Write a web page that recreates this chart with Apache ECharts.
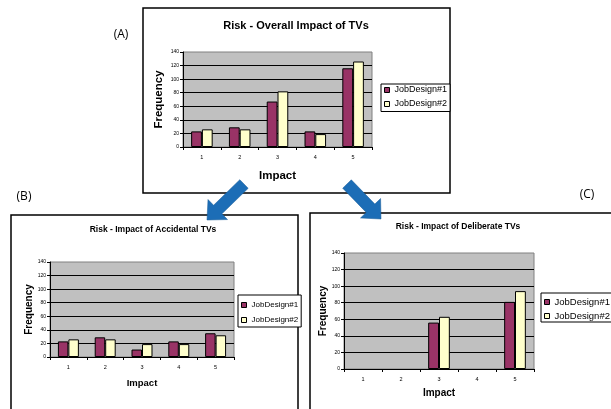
<!DOCTYPE html>
<html>
<head>
<meta charset="utf-8">
<script src="https://cdn.jsdelivr.net/npm/echarts@6/dist/echarts.min.js"></script>
<style>
  html, body { margin: 0; padding: 0; background: #fff; }
  #main { width: 611px; height: 409px; }
</style>
</head>
<body>
<div id="main"></div>
<script>
// data
const impactLevels = ['1', '2', '3', '4', '5'];
const seriesNames = ['JobDesign#1', 'JobDesign#2'];

const overallJD1 = [23, 29, 67, 23, 116];
const overallJD2 = [26, 26, 82, 19, 126];

const accidentalJD1 = [23, 29, 11, 23, 35];
const accidentalJD2 = [26, 26, 19, 19, 32];

const deliberateJD1 = [null, null, 56, null, 81];
const deliberateJD2 = [null, null, 63, null, 94];

const freqMax = 140;
const freqStep = 20;

const chart = echarts.init(document.getElementById('main'));

const ARIAL = 'Arial, "Liberation Sans", sans-serif';
const plum = '#993366';
const cream = '#FFFFCC';

// grid boxes (plot areas)
const grids = [
    { left: 183, top: 52, width: 189, height: 95 },   // A
    { left: 50, top: 262, width: 184, height: 95 },   // B
    { left: 344, top: 253, width: 190, height: 116 }  // C
];

function gridOpt(g) {
    return {
        left: g.left, top: g.top, width: g.width, height: g.height,
        show: true,
        backgroundColor: '#C0C0C0',
        borderColor: '#808080',
        borderWidth: 1
    };
}

function xAxisOpt(idx, gap, nameSize) {
    return {
        type: 'category',
        gridIndex: idx,
        data: impactLevels,
        name: 'Impact',
        nameLocation: 'middle',
        nameGap: gap,
        nameTextStyle: { fontFamily: ARIAL, fontWeight: 'bold', fontSize: nameSize, color: '#000' },
        axisLine: { lineStyle: { color: '#000', width: 1 } },
        axisTick: { show: true, length: 3, lineStyle: { color: '#000' } },
        axisLabel: { fontSize: 5.5, fontFamily: ARIAL, color: '#000', margin: 7 },
        splitLine: { show: false }
    };
}

function yAxisOpt(idx, gap, nameSize) {
    return {
        type: 'value',
        gridIndex: idx,
        min: 0,
        max: freqMax,
        interval: freqStep,
        name: 'Frequency',
        nameLocation: 'middle',
        nameGap: gap,
        nameTextStyle: { fontFamily: ARIAL, fontWeight: 'bold', fontSize: nameSize, color: '#000' },
        axisLine: { show: true, lineStyle: { color: '#000', width: 1 } },
        axisTick: { show: true, length: 3, lineStyle: { color: '#000' } },
        axisLabel: { fontSize: 5, fontFamily: ARIAL, color: '#000', margin: 4 },
        splitLine: { show: true, showMaxLine: false, showMinLine: false, lineStyle: { color: '#000', width: 1 } }
    };
}

function barSeries(name, color, idx, values) {
    return {
        name: name,
        type: 'bar',
        xAxisIndex: idx,
        yAxisIndex: idx,
        data: values,
        barGap: '0%',
        barCategoryGap: '43%',
        itemStyle: { color: color, borderColor: '#000', borderWidth: 1 },
        emphasis: { disabled: true },
        animation: false
    };
}

function legendOpt(left, top, fontSize, gap, pad) {
    return {
        data: seriesNames,
        orient: 'vertical',
        left: left,
        top: top,
        icon: 'rect',
        itemWidth: 5,
        itemHeight: 5,
        itemGap: gap,
        padding: pad,
        backgroundColor: '#fff',
        borderColor: '#000',
        borderWidth: 1,
        borderRadius: 0,
        itemStyle: { borderColor: '#000', borderWidth: 1 },
        textStyle: { fontSize: fontSize, fontFamily: ARIAL, color: '#000' },
        selectedMode: false
    };
}

function arrow(x1, y1, x2, y2, shaft, headW, headL) {
    const dx = x2 - x1, dy = y2 - y1;
    const len = Math.hypot(dx, dy);
    const ux = dx / len, uy = dy / len;
    const px = -uy, py = ux;
    const bx = x2 - ux * headL, by = y2 - uy * headL;
    const pts = [
        [x1 + px * shaft / 2, y1 + py * shaft / 2],
        [bx + px * shaft / 2, by + py * shaft / 2],
        [bx + px * headW / 2, by + py * headW / 2],
        [x2, y2],
        [bx - px * headW / 2, by - py * headW / 2],
        [bx - px * shaft / 2, by - py * shaft / 2],
        [x1 - px * shaft / 2, y1 - py * shaft / 2]
    ];
    return {
        type: 'polygon',
        shape: { points: pts },
        style: { fill: '#1c6db6', stroke: '#165a97', lineWidth: 0.5 },
        z: 100
    };
}

function frame(x, y, w, h) {
    return {
        type: 'rect',
        shape: { x: x, y: y, width: w, height: h },
        style: { fill: '#fff', stroke: '#000', lineWidth: 1.5 },
        z: -10,
        silent: true
    };
}

function label(text, x, y, size, bold, family) {
    return {
        type: 'text',
        x: x, y: y,
        style: {
            text: text,
            fill: '#000',
            font: (bold ? 'bold ' : '') + size + 'px ' + family,
            align: 'center',
            verticalAlign: 'middle'
        },
        z: 50
    };
}

const option = {
    backgroundColor: '#fff',
    animation: false,
    grid: grids.map(gridOpt),
    xAxis: [
        xAxisOpt(0, 23, 11.5),
        xAxisOpt(1, 21, 9.5),
        xAxisOpt(2, 19, 10)
    ],
    yAxis: [
        yAxisOpt(0, 18, 11.5),
        yAxisOpt(1, 15, 10),
        yAxisOpt(2, 15, 10)
    ],
    legend: [
        legendOpt(381, 84, 9, 5, [1.5, 3, 3, 3]),
        legendOpt(238, 295, 8, 7, [6, 3, 3, 3]),
        legendOpt(541, 293, 9.5, 4, [4, 3, 1, 3])
    ],
    series: [
        barSeries(seriesNames[0], plum, 0, overallJD1),
        barSeries(seriesNames[1], cream, 0, overallJD2),
        barSeries(seriesNames[0], plum, 1, accidentalJD1),
        barSeries(seriesNames[1], cream, 1, accidentalJD2),
        barSeries(seriesNames[0], plum, 2, deliberateJD1),
        barSeries(seriesNames[1], cream, 2, deliberateJD2)
    ],
    graphic: [
        frame(143, 8, 307, 185),
        frame(11, 215, 287, 200),
        frame(310, 213, 310, 200),
        label('Risk - Overall Impact of TVs', 296, 26, 11, true, ARIAL),
        label('Risk - Impact of Accidental TVs', 153, 230, 8.5, true, ARIAL),
        label('Risk - Impact of Deliberate TVs', 458, 227, 8.5, true, ARIAL),
        label('(A)', 121, 35, 12, false, '"Open Sans", sans-serif'),
        label('(B)', 24, 197, 12, false, '"Open Sans", sans-serif'),
        label('(C)', 587, 195, 12, false, '"Open Sans", sans-serif'),
        arrow(244, 184, 207, 220, 12, 28, 15),
        arrow(347, 184, 381, 219, 12, 28, 15)
    ]
};

chart.setOption(option);
</script>
</body>
</html>
